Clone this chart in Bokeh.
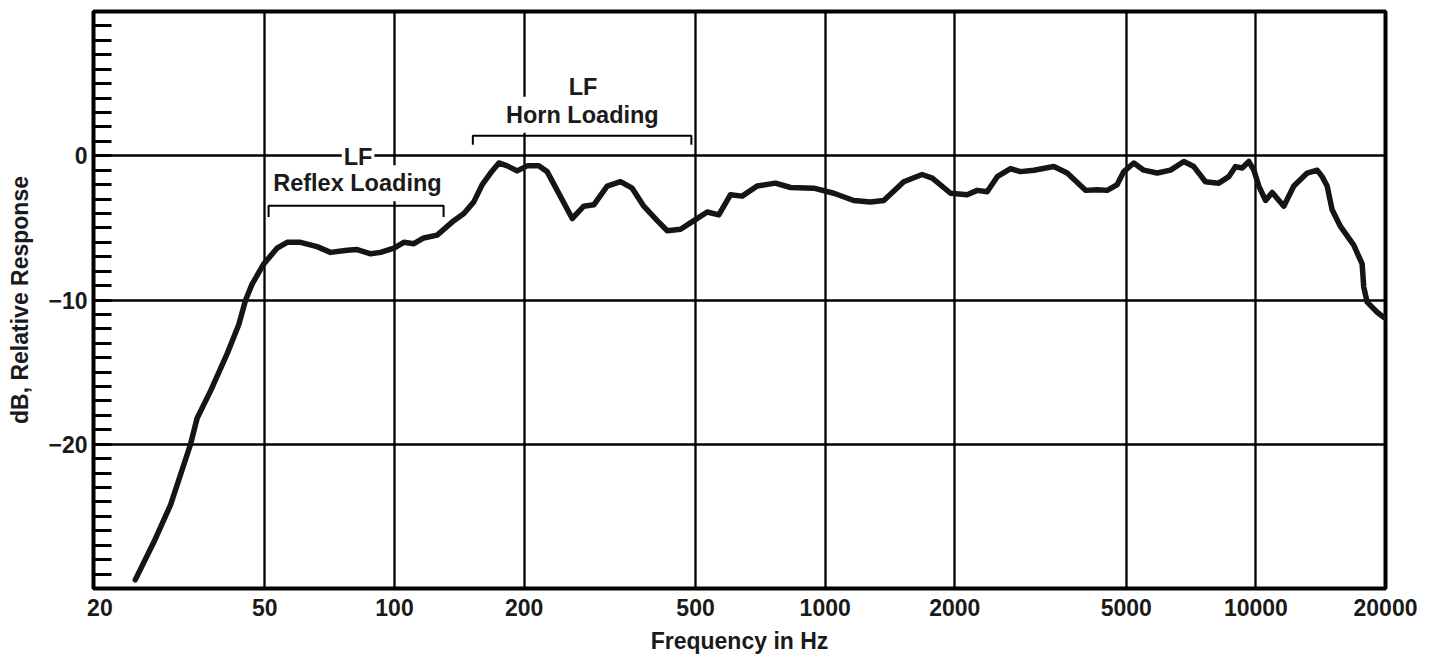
from bokeh.plotting import figure
from bokeh.models import FixedTicker, Label, ColumnDataSource
from bokeh.embed import file_html
from bokeh.resources import INLINE

# ---- data ----
freq_hz = [25.0, 27.6, 30.2, 33.6, 34.8, 37.4, 40.9, 43.5, 45.1, 46.7, 49.7, 53.4,
           56.3, 60.5, 66.1, 71.0, 77.6, 81.9, 88.0, 92.8, 99.7, 105.1, 110.9, 116.9,
           125.6, 137.3, 144.9, 152.8, 159.8, 167.1, 174.7, 182.7, 192.6, 203.2,
           216.2, 226.1, 238.6, 258.6, 275.1, 290.2, 311.7, 334.7, 356.3, 379.1,
           407.4, 429.8, 461.5, 495.5, 532.1, 566.2, 602.8, 641.6, 695.1, 766.6,
           830.6, 941.0, 1047, 1165, 1274, 1368, 1522, 1679, 1773, 1955, 2136, 2254,
           2377, 2509, 2694, 2843, 3052, 3395, 3647, 4023, 4283, 4518, 4765, 4936,
           5207, 5492, 5901, 6338, 6804, 7176, 7638, 8203, 8651, 8970, 9296, 9632,
           9893, 10161, 10530, 10913, 11612, 12249, 13157, 13878, 14254, 14640,
           15036, 15720, 16878, 17652, 17804, 18130, 19130, 19816]
response_db = [-29.4, -26.8, -24.2, -20.0, -18.2, -16.3, -13.7, -11.7, -10.0, -8.9, -7.5, -6.4,
               -6.0, -6.0, -6.3, -6.7, -6.55, -6.5, -6.8, -6.7, -6.4, -6.0, -6.1, -5.7,
               -5.5, -4.5, -4.0, -3.2, -2.0, -1.2, -0.5, -0.7, -1.05, -0.7,
               -0.7, -1.1, -2.4, -4.35, -3.5, -3.4, -2.1, -1.8, -2.25, -3.5,
               -4.5, -5.2, -5.1, -4.5, -3.9, -4.1, -2.7, -2.8, -2.1, -1.9,
               -2.2, -2.25, -2.6, -3.1, -3.2, -3.1, -1.8, -1.3, -1.55, -2.6, -2.7, -2.4,
               -2.5, -1.45, -0.9, -1.1, -1.0, -0.75, -1.2, -2.4, -2.35, -2.4, -2.0, -1.1,
               -0.5, -1.0, -1.2, -1.0, -0.4, -0.75, -1.8, -1.9, -1.45, -0.75, -0.85, -0.4,
               -1.0, -2.1, -3.1, -2.55, -3.5, -2.1, -1.2, -1.0, -1.45, -2.1,
               -3.75, -4.9, -6.2, -7.5, -9.1, -10.15, -10.85, -11.2]

x_ticks = [20, 50, 100, 200, 500, 1000, 2000, 5000, 10000, 20000]
x_tick_labels = ["\u00a0\u00a020", "50", "100", "200", "500", "1000", "2000", "5000", "10000", "20000"]
y_ticks = [-20, -10, 0]
y_tick_labels = ["\u221220", "\u221210", "0"]
y_minor_ticks = [v for v in range(-29, 10)]

reflex_text = ["LF", "Reflex Loading"]
horn_text = ["LF", "Horn Loading"]
reflex_span = [51, 130]     # Hz
horn_span = [152, 489]      # Hz

FONT = "Liberation Sans"

p = figure(width=1430, height=656, x_axis_type="log",
           x_range=(20, 20000), y_range=(-30, 10),
           output_backend="svg", toolbar_location=None,
           min_border_left=93, min_border_right=45,
           min_border_top=11, min_border_bottom=67,
           background_fill_color="white", border_fill_color="white")

p.outline_line_color = "black"
p.outline_line_width = 4
p.outline_line_alpha = 1

# x axis
p.xaxis.ticker = FixedTicker(ticks=x_ticks, minor_ticks=[])
p.xaxis.major_label_overrides = {t: l for t, l in zip(x_ticks, x_tick_labels)}
p.xaxis.axis_label = "Frequency in Hz"
p.xaxis.major_tick_in = 0
p.xaxis.major_tick_out = 0
p.xaxis.minor_tick_in = 0
p.xaxis.minor_tick_out = 0
p.xaxis.axis_line_color = None
p.xaxis.major_label_standoff = 6
p.xaxis.axis_label_standoff = 4

# y axis
p.yaxis.ticker = FixedTicker(ticks=y_ticks, minor_ticks=y_minor_ticks)
p.yaxis.major_label_overrides = {t: l for t, l in zip(y_ticks, y_tick_labels)}
p.yaxis.axis_label = "dB, Relative Response"
p.yaxis.major_tick_in = 0
p.yaxis.major_tick_out = 0
p.yaxis.minor_tick_in = 18
p.yaxis.minor_tick_out = 0
p.yaxis.minor_tick_line_width = 3
p.yaxis.minor_tick_line_color = "black"
p.yaxis.axis_line_color = None
p.yaxis.major_label_standoff = 6
p.yaxis.axis_label_standoff = 12

for ax in (p.xaxis[0], p.yaxis[0]):
    ax.major_label_text_font = FONT
    ax.major_label_text_font_style = "bold"
    ax.major_label_text_font_size = "23px"
    ax.major_label_text_color = "#1a1a1a"
    ax.axis_label_text_font = FONT
    ax.axis_label_text_font_style = "bold"
    ax.axis_label_text_font_size = "23px"
    ax.axis_label_text_color = "#1a1a1a"

for g in (p.xgrid[0], p.ygrid[0]):
    g.grid_line_color = "black"
    g.grid_line_width = 2.3
    g.grid_line_alpha = 1

# curve
src = ColumnDataSource(dict(f=freq_hz, db=response_db))
p.line("f", "db", source=src, line_color="#151515", line_width=5.5,
       line_join="round", line_cap="round")

# brackets
p.line([reflex_span[0], reflex_span[0], reflex_span[1], reflex_span[1]],
       [-4.25, -3.46, -3.46, -4.25], line_color="black", line_width=2)
p.line([horn_span[0], horn_span[0], horn_span[1], horn_span[1]],
       [0.77, 1.39, 1.39, 0.77], line_color="black", line_width=2)

def add_label(x, y, text, pad):
    p.add_layout(Label(x=x, y=y, text=text, text_align="center", text_baseline="middle",
                       text_font=FONT, text_font_style="bold", text_font_size="23.5px",
                       text_color="#1a1a1a", background_fill_color="white",
                       padding=pad))

add_label(82.3, -0.1, reflex_text[0], 2)
add_label(82.0, -1.9, reflex_text[1], 5)
add_label(274, 4.75, horn_text[0], 0)
add_label(273, 2.85, horn_text[1], 5)

open("out.html", "w").write(file_html(p, INLINE))
